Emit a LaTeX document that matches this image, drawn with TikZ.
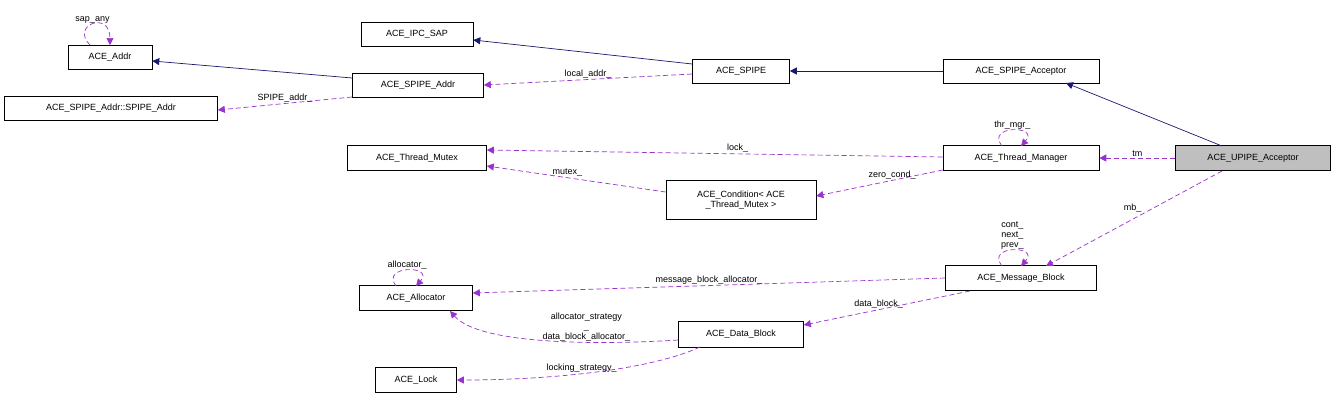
\documentclass[tikz,border=0pt]{standalone}
\usepackage{fontspec}
\setmainfont{Liberation Sans}
\usetikzlibrary{arrows.meta}
\begin{document}
\begin{tikzpicture}[x=1pt,y=-1pt,font=\fontsize{9}{10}\selectfont,
 box/.style={draw,fill=white,inner sep=0,align=center,line width=0.6pt},
 inh/.style={draw={rgb,255:red,25;green,25;blue,112},-{Triangle[length=7pt,width=7pt]},line width=0.7pt},
 use/.style={draw={rgb,255:red,154;green,50;blue,205},dashed,dash pattern=on 5pt off 3pt,-{Triangle[length=7pt,width=7pt]},line width=0.7pt},
 lbl/.style={align=center,inner sep=1pt}]
\useasboundingbox (0,0) rectangle (1337,400);
\node[box,minimum width=84,minimum height=24] (addr) at (110,57) {ACE\_Addr};
\node[box,minimum width=112,minimum height=24] (ipc) at (417,34) {ACE\_IPC\_SAP};
\node[box,minimum width=131,minimum height=24] (saddr) at (418,85) {ACE\_SPIPE\_Addr};
\node[box,minimum width=213,minimum height=24] (sps) at (111,108) {ACE\_SPIPE\_Addr::SPIPE\_Addr};
\node[box,minimum width=97,minimum height=24] (spipe) at (741,71) {ACE\_SPIPE};
\node[box,minimum width=156,minimum height=24] (sacc) at (1021,71) {ACE\_SPIPE\_Acceptor};
\node[box,minimum width=155,minimum height=25,fill={rgb,255:red,191;green,191;blue,191}] (uacc) at (1253,158) {ACE\_UPIPE\_Acceptor};
\node[box,minimum width=156,minimum height=25] (tmgr) at (1021,158) {ACE\_Thread\_Manager};
\node[box,minimum width=139,minimum height=25] (mutex) at (417,158) {ACE\_Thread\_Mutex};
\node[box,minimum width=150,minimum height=39] (cond) at (741,200) {ACE\_Condition< ACE\\\_Thread\_Mutex >};
\node[box,minimum width=151,minimum height=25] (mb) at (1021,278) {ACE\_Message\_Block};
\node[box,minimum width=113,minimum height=25] (alloc) at (416,298) {ACE\_Allocator};
\node[box,minimum width=125,minimum height=26] (db) at (741,334) {ACE\_Data\_Block};
\node[box,minimum width=81,minimum height=25] (lock) at (416,380) {ACE\_Lock};

\draw[inh] (saddr.west|-0,78) -- (addr.east|-0,61);
\draw[inh] (spipe.west|-0,64) -- (ipc.east|-0,40);
\draw[inh] (sacc) -- (spipe);
\draw[inh] (1222,146) -- (1066,83);

\draw[use] (spipe.west|-0,74) -- node[lbl,above,pos=0.5] {local\_addr\_} (saddr.east|-0,85);
\draw[use] (saddr.west|-0,97) -- node[lbl,above] {SPIPE\_addr\_} (sps.east|-0,110);
\draw[use] (90,45) .. controls (70,25) and (110,10) .. node[lbl,above] {sap\_any} (110,45);
\draw[use] (tmgr.west|-0,157) -- node[lbl,above,pos=0.45] {lock\_} (mutex.east|-0,150);
\draw[use] (1002,146) .. controls (985,125) and (1040,125) .. node[lbl,above] {thr\_mgr\_} (1021,146);
\draw[use] (cond.west|-0,192) -- node[lbl,above,pos=0.55] {mutex\_} (mutex.east|-0,166);
\draw[use] (tmgr.west|-0,170) -- node[lbl,above,pos=0.4] {zero\_cond\_} (cond.east|-0,196);
\draw[use] (uacc.west) -- node[lbl,above] {tm} (tmgr.east);
\draw[use] (1222,171) -- node[lbl,above left,pos=0.45] {mb\_} (1046,266);
\draw[use] (1002,266) .. controls (985,245) and (1040,245) .. node[lbl,above] {cont\_\\next\_\\prev\_} (1021,266);
\draw[use] (mb.west|-0,278) -- node[lbl,above] {message\_block\_allocator\_} (alloc.east|-0,293);
\draw[use] (396,286) .. controls (380,265) and (435,265) .. node[lbl,above] {allocator\_} (416,286);
\draw[use] (970,291) -- node[lbl,above,pos=0.55] {data\_block\_} (db.east|-0,325);
\draw[use] (db.west|-0,340) .. controls (600,345) and (480,345) .. node[lbl,above,pos=0.35] {allocator\_strategy\\\_\\data\_block\_allocator\_} (450,311);
\draw[use] (700,347) .. controls (650,370) and (550,380) .. node[lbl,above,pos=0.55] {locking\_strategy\_} (lock.east|-0,380);
\end{tikzpicture}
\end{document}
